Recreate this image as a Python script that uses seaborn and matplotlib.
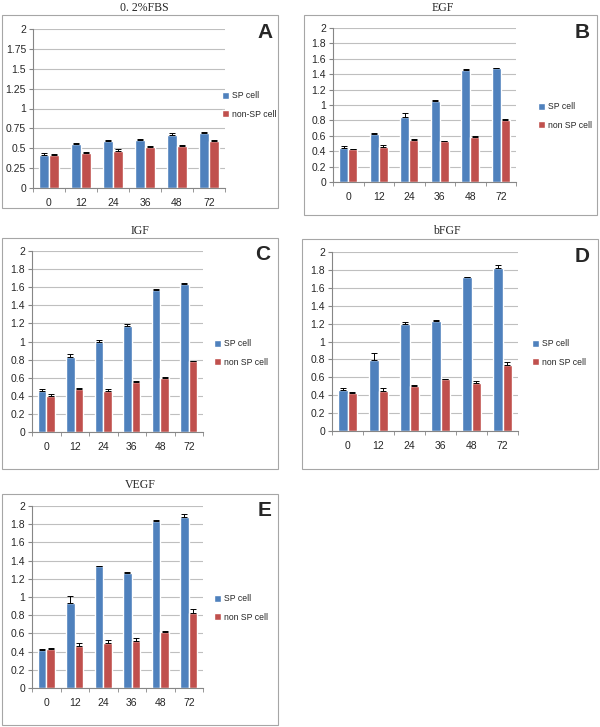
import numpy as np
import pandas as pd
import matplotlib
matplotlib.use("Agg")
import matplotlib.pyplot as plt
import seaborn as sns
from matplotlib.patches import Rectangle

# data
hours = ["0", "12", "24", "36", "48", "72"]

fbs_sp = [0.42, 0.55, 0.59, 0.60, 0.67, 0.69]
fbs_sp_err = [0.015, 0.02, 0.01, 0.015, 0.02, 0.02]
fbs_non = [0.42, 0.44, 0.47, 0.51, 0.53, 0.59]
fbs_non_err = [0.01, 0.01, 0.025, 0.015, 0.015, 0.015]

egf_sp = [0.44, 0.62, 0.84, 1.05, 1.46, 1.48]
egf_sp_err = [0.025, 0.02, 0.05, 0.015, 0.01, 0.005]
egf_non = [0.43, 0.46, 0.54, 0.53, 0.59, 0.80]
egf_non_err = [0.005, 0.025, 0.015, 0.005, 0.005, 0.015]

igf_sp = [0.45, 0.83, 1.00, 1.17, 1.57, 1.63]
igf_sp_err = [0.02, 0.03, 0.02, 0.02, 0.015, 0.02]
igf_non = [0.40, 0.47, 0.45, 0.55, 0.60, 0.78]
igf_non_err = [0.015, 0.02, 0.03, 0.015, 0.005, 0.005]

bfgf_sp = [0.46, 0.79, 1.19, 1.23, 1.72, 1.82]
bfgf_sp_err = [0.015, 0.08, 0.03, 0.005, 0.005, 0.03]
bfgf_non = [0.42, 0.45, 0.50, 0.58, 0.54, 0.74]
bfgf_non_err = [0.015, 0.03, 0.015, 0.005, 0.015, 0.03]

vegf_sp = [0.42, 0.93, 1.34, 1.26, 1.84, 1.88]
vegf_sp_err = [0.005, 0.08, 0.005, 0.015, 0.01, 0.03]
vegf_non = [0.43, 0.46, 0.50, 0.52, 0.62, 0.82]
vegf_non_err = [0.015, 0.03, 0.025, 0.025, 0.005, 0.05]

W, H = 600, 727
BLUE = "#4F81BD"
RED = "#C0504D"

sns.set_style("white")
plt.rcParams["font.family"] = ["Liberation Sans", "DejaVu Sans"]

fig = plt.figure(figsize=(W / 100, H / 100), dpi=100)


def px_axes(left, top, right, bottom):
    return fig.add_axes([left / W, 1 - bottom / H, (right - left) / W, (bottom - top) / H])


def frame(x0, y0, x1, y1):
    fig.patches.append(Rectangle((x0 / W, 1 - y1 / H), (x1 - x0) / W, (y1 - y0) / H,
                                 transform=fig.transFigure, fill=False,
                                 edgecolor="#A6A6A6", linewidth=0.8))


def panel(box, ax_box, title, title_xy, letter, letter_xy, sp, sp_err, non, non_err,
          non_label, step, leg_dx, leg_y):
    frame(*box)
    ax = px_axes(*ax_box)
    df = pd.DataFrame({
        "hour": hours * 2,
        "value": sp + non,
        "cell": ["SP cell"] * 6 + [non_label] * 6,
    })
    sns.barplot(data=df, x="hour", y="value", hue="cell", order=hours,
                palette=[BLUE, RED], width=0.6, errorbar=None, ax=ax,
                saturation=1, zorder=2)
    for cont, err in zip(ax.containers, [sp_err, non_err]):
        xs = [b.get_x() + b.get_width() / 2 for b in cont]
        ys = [b.get_height() for b in cont]
        ax.errorbar(xs, ys, yerr=[np.zeros(len(err)), err], fmt="none",
                    ecolor="black", elinewidth=0.7, capsize=2, capthick=0.7, zorder=3)
    ax.set_ylim(0, 2)
    ax.set_xlim(-0.5, 5.5)
    yt = np.arange(0, 2.0001, step)
    ax.set_yticks(yt)
    ax.set_yticklabels([("%g" % v) for v in yt])
    ax.set_xticks(np.arange(-0.5, 6, 1), minor=True)
    ax.tick_params(axis="x", which="major", length=0, labelsize=7.5, pad=7)
    ax.tick_params(axis="x", which="minor", length=3, color="#868686", direction="out")
    ax.tick_params(axis="y", length=3, color="#868686", direction="out", labelsize=7.5, pad=2)
    ax.xaxis.set_tick_params(bottom=True, which="both")
    ax.yaxis.set_tick_params(left=True)
    ax.yaxis.grid(True, color="#BFBFBF", linewidth=0.8, zorder=0)
    ax.set_axisbelow(True)
    for s in ["top", "right"]:
        ax.spines[s].set_visible(False)
    for s in ["left", "bottom"]:
        ax.spines[s].set_color("#868686")
        ax.spines[s].set_linewidth(0.8)
    ax.set_xlabel("")
    ax.set_ylabel("")
    right = ax_box[2]
    ax.legend(loc="center left",
              bbox_to_anchor=((right + leg_dx) / W, 1 - leg_y / H),
              bbox_transform=fig.transFigure, frameon=False, borderpad=0,
              borderaxespad=0, handlelength=0.8, handleheight=0.8,
              handletextpad=0.35, labelspacing=1.1, fontsize=6.2)
    fig.text(title_xy[0] / W, 1 - title_xy[1] / H, title, ha="center", va="center",
             fontsize=8.5, family=["Liberation Serif", "DejaVu Serif"])
    fig.text(letter_xy[0] / W, 1 - letter_xy[1] / H, letter, ha="center", va="center",
             fontsize=15, fontweight="bold")
    return ax


panel((2, 15, 278, 208), (33, 29, 225, 188), "0. 2%FBS", (144, 8), "A", (265, 33),
      fbs_sp, fbs_sp_err, fbs_non, fbs_non_err, "non-SP cell", 0.25, -3, 105)
panel((304, 15, 597, 215), (333, 28, 516, 182), "EGF", (443, 8), "B", (582, 32),
      egf_sp, egf_sp_err, egf_non, egf_non_err, "non SP cell", 0.2, 22, 116)
panel((2, 238, 278, 469), (32, 251, 203, 432), "IGF", (140, 231), "C", (263, 255),
      igf_sp, igf_sp_err, igf_non, igf_non_err, "non SP cell", 0.2, 11, 353)
panel((302, 239, 598, 469), (332, 252, 518, 431), "bFGF", (447, 231), "D", (582, 256),
      bfgf_sp, bfgf_sp_err, bfgf_non, bfgf_non_err, "non SP cell", 0.2, 14, 353)
panel((2, 494, 278, 725), (32, 506, 203, 688), "VEGF", (140, 485), "E", (265, 510),
      vegf_sp, vegf_sp_err, vegf_non, vegf_non_err, "non SP cell", 0.2, 11, 608)

fig.savefig("out.png", dpi=100)
